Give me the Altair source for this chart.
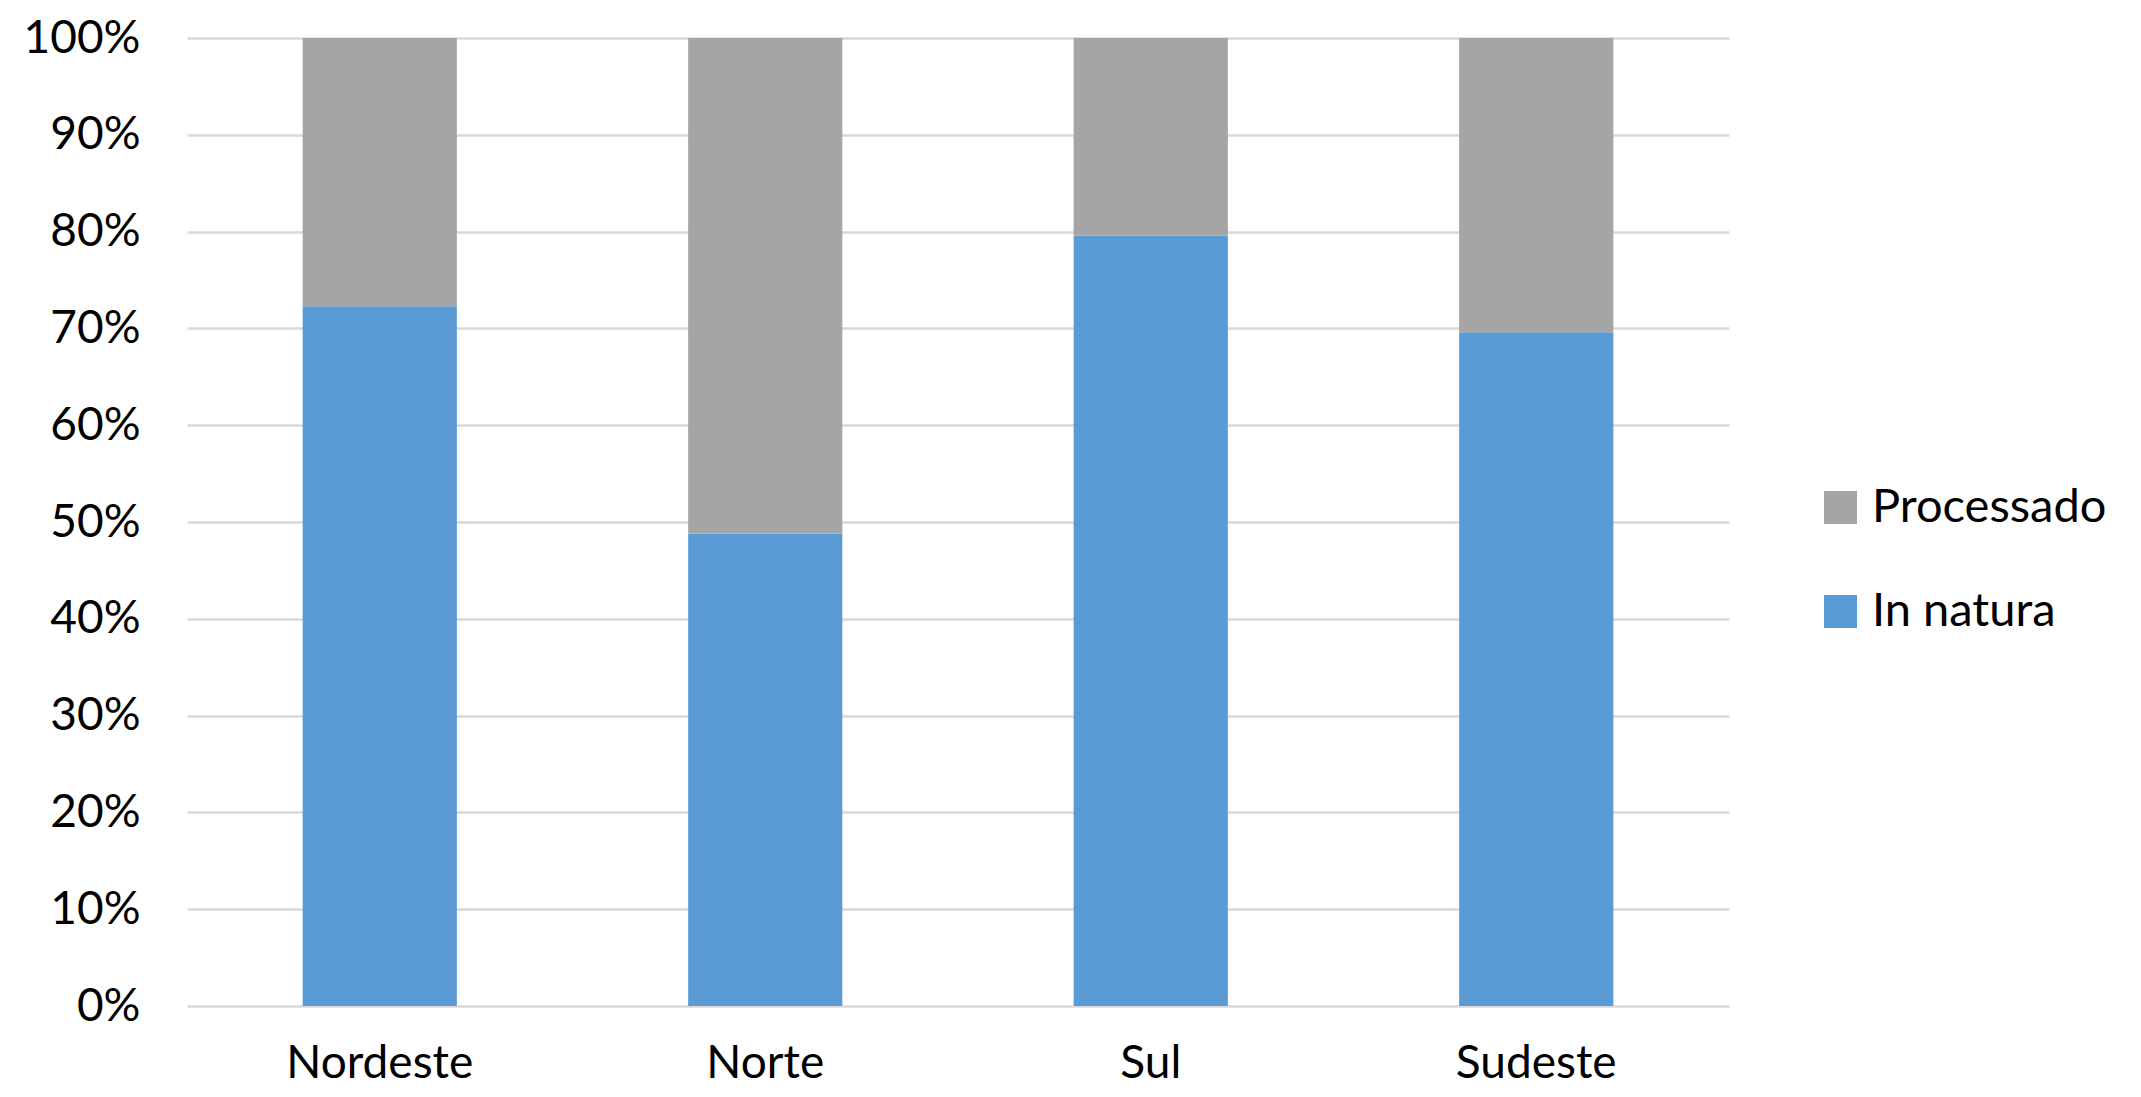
import altair as alt
import pandas as pd

regions = ["Nordeste", "Norte", "Sul", "Sudeste"]
in_natura = [0.723, 0.488, 0.796, 0.696]
processado = [round(1 - v, 3) for v in in_natura]
series = ["Processado", "In natura"]
colors = ["#A5A5A5", "#5B9BD5"]

rows = []
for r, a, b in zip(regions, in_natura, processado):
    rows.append({"Região": r, "Tipo": "In natura", "Valor": a, "ordem": 0})
    rows.append({"Região": r, "Tipo": "Processado", "Valor": b, "ordem": 1})
df = pd.DataFrame(rows)

FONT = "Lato"

chart = (
    alt.Chart(df)
    .mark_bar()
    .encode(
        x=alt.X(
            "Região:N",
            sort=regions,
            title=None,
            scale=alt.Scale(paddingInner=0.6, paddingOuter=0.3),
            axis=alt.Axis(
                labelAngle=0,
                ticks=False,
                domain=False,
                grid=False,
                labelPadding=35,
                labelFontSize=46,
                labelFont=FONT,
                labelColor="#000000",
                labelLimit=0,
            ),
        ),
        y=alt.Y(
            "Valor:Q",
            stack="zero",
            title=None,
            scale=alt.Scale(domain=[0, 1], nice=False),
            axis=alt.Axis(
                values=[i / 10 for i in range(11)],
                format=".0%",
                ticks=False,
                domain=False,
                grid=True,
                gridColor="#D9D9D9",
                gridWidth=2.5,
                labelPadding=47,
                labelFontSize=46,
                labelFont=FONT,
                labelColor="#000000",
                labelLimit=0,
            ),
        ),
        color=alt.Color(
            "Tipo:N",
            scale=alt.Scale(domain=series, range=colors),
            legend=alt.Legend(
                title=None,
                orient="none",
                legendX=1630,
                legendY=446,
                symbolType="square",
                symbolSize=1089,
                symbolStrokeWidth=0,
                labelFontSize=47,
                labelFont=FONT,
                labelColor="#000000",
                labelOffset=8,
                labelLimit=0,
                rowPadding=56,
                padding=0,
            ),
        ),
        order=alt.Order("ordem:Q", sort="ascending"),
    )
    .properties(
        width=1542,
        height=968,
        background="#FFFFFF",
        autosize=alt.AutoSizeParams(type="none"),
        padding={"left": 179, "top": 30, "right": 404, "bottom": 83},
    )
    .configure_view(strokeWidth=0, stroke="transparent")
)

chart.save("out.html", embed_options={"renderer": "svg", "actions": False})
